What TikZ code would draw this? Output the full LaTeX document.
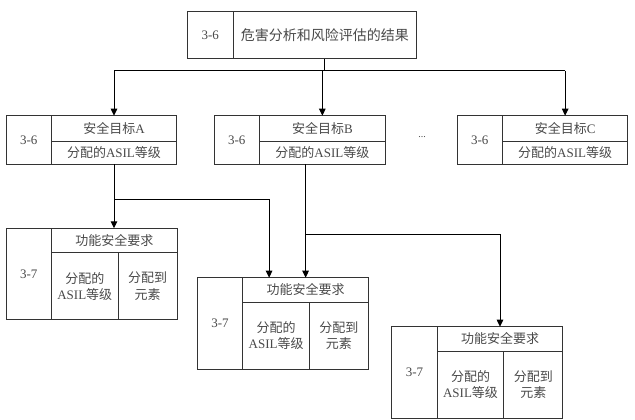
\documentclass[tikz,border=0pt]{standalone}
\usepackage{fontspec}
\setmainfont{Liberation Serif}
\newfontfamily\cjk{Noto Sans CJK SC}
\usetikzlibrary{arrows.meta,calc}
\definecolor{boxc}{HTML}{333333}
\definecolor{txtc}{HTML}{4A4A4A}
\newcommand{\zh}[1]{{\cjk #1}}
\newcommand{\goalbox}[4]{%
  \node[cell,minimum width=45.5pt,minimum height=48.6pt] (#1n) at (#2,115.7) {3-6};
  \node[cell,minimum width=#3pt,minimum height=25.3pt] (#1t) at (#2+45.5,115.7) {\zh{安全目标}#4};
  \node[cell,minimum width=#3pt,minimum height=23.3pt] (#1a) at (#2+45.5,141) {\zh{分配的}ASIL\zh{等级}};
}
\newcommand{\fsrbox}[3]{%
  \node[cell,minimum width=45.5pt,minimum height=91.6pt] (#1n) at (#2,#3) {3-7};
  \node[cell,minimum width=125.6pt,minimum height=24.4pt] (#1t) at (#2+45.5,#3) {\zh{功能安全要求}};
  \node[cell,minimum width=66.6pt,minimum height=67.2pt] (#1a) at (#2+45.5,#3+24.4) {\zh{分配的}\\ASIL\zh{等级}};
  \node[cell,minimum width=59pt,minimum height=67.2pt] (#1e) at (#2+112.1,#3+24.4) {\zh{分配到}\\\zh{元素}};
}
\begin{document}
\begin{tikzpicture}[x=1pt,y=-1pt,
  cell/.style={draw=boxc,line width=1pt,inner sep=0pt,outer sep=0pt,anchor=north west,
    align=center,text=txtc,font=\fontsize{13}{16.5}\selectfont},
  conn/.style={draw=black,line width=1pt},
  arr/.style={conn,-{Triangle[length=7pt,width=6.5pt]}}]
\useasboundingbox (0,0) rectangle (635,420);
\fill[white] (0,0) rectangle (635,420);

% top box
\node[cell,minimum width=46.5pt,minimum height=47pt] (tnum) at (187,12) {3-6};
\node[cell,minimum width=182.5pt,minimum height=47pt,font=\fontsize{14}{16}\selectfont] (ttxt) at (233.5,12) {\zh{危害分析和风险评估的结果}};

% safety goals
\goalbox{A}{6}{125}{A}
\goalbox{B}{214}{125.7}{B}
\goalbox{C}{457}{125.3}{C}
\node[text=txtc,font=\fontsize{10}{12}\selectfont] (dots) at (422,137) {...};

% functional safety requirements
\fsrbox{fa}{6}{228.3}
\fsrbox{fb}{197.3}{277.7}
\fsrbox{fc}{391.7}{326.7}

% connectors
\coordinate (bus) at (0,71);
\draw[conn] (ttxt.south) -- (ttxt.south |- bus);
\draw[conn] (At.north |- bus) -- (Ct.north |- bus);
\draw[arr] (At.north |- bus) -- (At.north);
\draw[arr] (Bt.north |- bus) -- (Bt.north);
\draw[arr] (Ct.north |- bus) -- (Ct.north);

\coordinate (j1) at (0,199);
\coordinate (p2) at ($(fbt.north west)+(26.3,0)$);
\draw[arr] (Aa.south) -- (Aa.south |- fat.north);
\draw[arr] (Aa.south |- j1) -| (p2);

\coordinate (j2) at (0,234);
\draw[arr] (fbt.north |- Ba.south) -- (fbt.north);
\draw[arr] (fbt.north |- j2) -| (fct.north);
\end{tikzpicture}
\end{document}
